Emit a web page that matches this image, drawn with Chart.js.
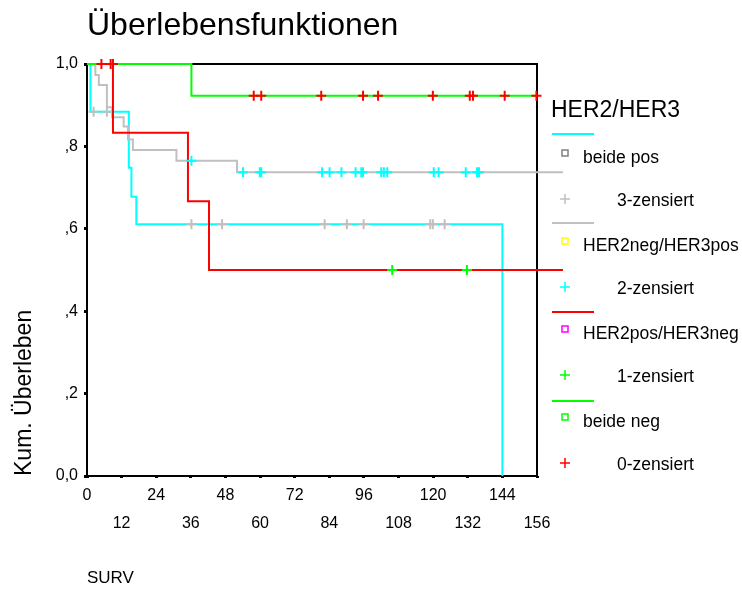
<!DOCTYPE html>
<html lang="de">
<head>
<meta charset="UTF-8">
<title>Überlebensfunktionen</title>
<script src="https://cdnjs.cloudflare.com/ajax/libs/Chart.js/4.4.1/chart.umd.min.js"></script>
<style>
    body { margin: 0; background: #fff; }
    canvas { display: block; }
</style>
</head>
<body>
<canvas id="survChart" width="742" height="589"></canvas>
<script>
// Kaplan-Meier steps (time in months, cumulative survival)
const beidePosTime = [0, 1.2, 14.5, 15.4, 17.1, 144];
const beidePosSurv = [1, 0.884, 0.748, 0.678, 0.611, 0];

const her2negTime = [0, 2.9, 4.1, 6.9, 8.7, 12.7, 14.2, 15.9, 31.0, 52.0, 165];
const her2negSurv = [1, 0.973, 0.949, 0.895, 0.871, 0.848, 0.817, 0.791, 0.765, 0.737, 0.737];

const her2posTime = [0, 9.0, 35.0, 42.3, 165];
const her2posSurv = [1, 0.833, 0.667, 0.5, 0.5];

const beideNegTime = [0, 36.2, 155.8];
const beideNegSurv = [1, 0.923, 0.923];

// censored cases
const cens3Time = [2.3, 6.9, 36.2, 46.8, 82.4, 90.1, 95.9, 119.0, 119.9, 124.0];
const cens3Surv = [0.884, 0.884, 0.611, 0.611, 0.611, 0.611, 0.611, 0.611, 0.611, 0.611];

const cens2Time = [36.2, 54.1, 59.9, 60.4, 81.5, 84.1, 88.2, 93.1, 95.1, 95.7, 102.0, 102.9, 104.1, 120.2, 121.9, 131.3, 135.2, 135.9];
const cens2Surv = [0.765, 0.737, 0.737, 0.737, 0.737, 0.737, 0.737, 0.737, 0.737, 0.737, 0.737, 0.737, 0.737, 0.737, 0.737, 0.737, 0.737, 0.737];

const cens1Time = [105.8, 131.7];
const cens1Surv = [0.5, 0.5];

const cens0Time = [5.0, 8.2, 9.0, 57.8, 60.4, 81.2, 95.7, 100.9, 119.9, 132.7, 133.8, 144.8, 155.8];
const cens0Surv = [1, 1, 1, 0.923, 0.923, 0.923, 0.923, 0.923, 0.923, 0.923, 0.923, 0.923, 0.923];

const xTickLabels = ['0', '12', '24', '36', '48', '60', '72', '84', '96', '108', '120', '132', '144', '156'];
const yTickLabels = ['0,0', ',2', ',4', ',6', ',8', '1,0'];

const groupNames = ['beide pos', 'HER2neg/HER3pos', 'HER2pos/HER3neg', 'beide neg'];
const censorNames = ['3-zensiert', '2-zensiert', '1-zensiert', '0-zensiert'];

const FONT = '"Liberation Sans", Arial, sans-serif';
const lineColors = ['#00ffff', '#c0c0c0', '#ff0000', '#00ff00'];
const squareColors = ['#808080', '#ffff00', '#ff00ff', '#00ff00'];
const censorColors = ['#c0c0c0', '#00ffff', '#00ff00', '#ff0000'];

function toPoints(xs, ys) {
    return xs.map((x, i) => ({ x: x, y: ys[i] }));
}

function curve(xs, ys, color) {
    return {
        data: toPoints(xs, ys),
        borderColor: color,
        borderWidth: 2,
        stepped: 'before',
        pointRadius: 0,
        fill: false,
        clip: false
    };
}

function censored(xs, ys, color) {
    return {
        data: toPoints(xs, ys),
        showLine: false,
        pointStyle: 'cross',
        pointRadius: 5,
        pointBorderWidth: 2,
        pointBorderColor: color,
        borderColor: color,
        clip: false
    };
}

// frame, title and the SPSS style legend
const decorations = {
    id: 'decorations',
    beforeDatasetsDraw(chart) {
        const { ctx, chartArea: a } = chart;
        ctx.save();
        ctx.strokeStyle = '#000';
        ctx.lineWidth = 2;
        ctx.strokeRect(a.left, a.top, a.right - a.left, a.bottom - a.top);
        ctx.restore();
    },
    afterDraw(chart) {
        const ctx = chart.ctx;
        ctx.save();
        ctx.fillStyle = '#000';
        ctx.textBaseline = 'alphabetic';
        ctx.font = '32px ' + FONT;
        ctx.fillText('Überlebensfunktionen', 87, 35);

        ctx.font = '23px ' + FONT;
        ctx.fillText('HER2/HER3', 551, 117);

        ctx.font = '17.5px ' + FONT;
        ctx.textBaseline = 'middle';
        for (let i = 0; i < groupNames.length; i++) {
            const gy = 158 + i * 88;
            const cy = 201 + i * 88;
            const ly = 134 + i * 89;
            // line sample
            ctx.strokeStyle = lineColors[i];
            ctx.lineWidth = 2;
            ctx.beginPath();
            ctx.moveTo(552, ly);
            ctx.lineTo(594, ly);
            ctx.stroke();
            // square marker
            ctx.strokeStyle = squareColors[i];
            ctx.lineWidth = 1.5;
            ctx.strokeRect(562, gy - 8, 6, 6);
            ctx.fillStyle = '#000';
            ctx.fillText(groupNames[i], 583, gy);
            // censor cross
            ctx.strokeStyle = censorColors[i];
            ctx.lineWidth = 1.5;
            ctx.beginPath();
            ctx.moveTo(560, cy - 2);
            ctx.lineTo(570, cy - 2);
            ctx.moveTo(565, cy - 7);
            ctx.lineTo(565, cy + 3);
            ctx.stroke();
            ctx.fillText(censorNames[i], 617, cy);
        }
        ctx.restore();
    }
};

new Chart(document.getElementById('survChart'), {
    type: 'line',
    data: {
        datasets: [
            censored(cens0Time, cens0Surv, censorColors[3]),
            censored(cens1Time, cens1Surv, censorColors[2]),
            censored(cens2Time, cens2Surv, censorColors[1]),
            censored(cens3Time, cens3Surv, censorColors[0]),
            curve(beideNegTime, beideNegSurv, lineColors[3]),
            curve(her2posTime, her2posSurv, lineColors[2]),
            curve(her2negTime, her2negSurv, lineColors[1]),
            curve(beidePosTime, beidePosSurv, lineColors[0])
        ]
    },
    options: {
        responsive: false,
        animation: false,
        events: [],
        layout: { padding: { top: 64, right: 205, left: 0, bottom: 0 } },
        plugins: {
            legend: { display: false },
            tooltip: { enabled: false },
            title: { display: false }
        },
        scales: {
            x: {
                type: 'linear',
                min: 0,
                max: 156,
                afterFit: (scale) => { scale.height = 113; },
                border: { display: false },
                grid: { drawOnChartArea: false, drawTicks: true, tickLength: 2, lineWidth: 3, color: '#000' },
                ticks: {
                    stepSize: 12,
                    autoSkip: false,
                    maxRotation: 0,
                    padding: 4,
                    color: '#000',
                    font: { family: FONT, size: 16, lineHeight: 1.75 },
                    callback: (value, index) => index % 2 === 0 ? xTickLabels[index] : ['', xTickLabels[index]]
                },
                title: {
                    display: true,
                    text: 'SURV',
                    align: 'start',
                    color: '#000',
                    font: { family: FONT, size: 17 },
                    padding: { top: 0, bottom: 0 }
                }
            },
            y: {
                min: 0,
                max: 1,
                afterFit: (scale) => { scale.width = 87; },
                border: { display: false },
                grid: { drawOnChartArea: false, drawTicks: true, tickLength: 3, lineWidth: 3, color: '#000' },
                ticks: {
                    stepSize: 0.2,
                    padding: 6,
                    color: '#000',
                    font: { family: FONT, size: 16 },
                    callback: (value, index) => yTickLabels[index]
                },
                title: {
                    display: true,
                    text: 'Kum. Überleben',
                    align: 'start',
                    color: '#000',
                    font: { family: FONT, size: 23 },
                    padding: { top: 11, bottom: 0 }
                }
            }
        }
    },
    plugins: [decorations]
});
</script>
</body>
</html>
